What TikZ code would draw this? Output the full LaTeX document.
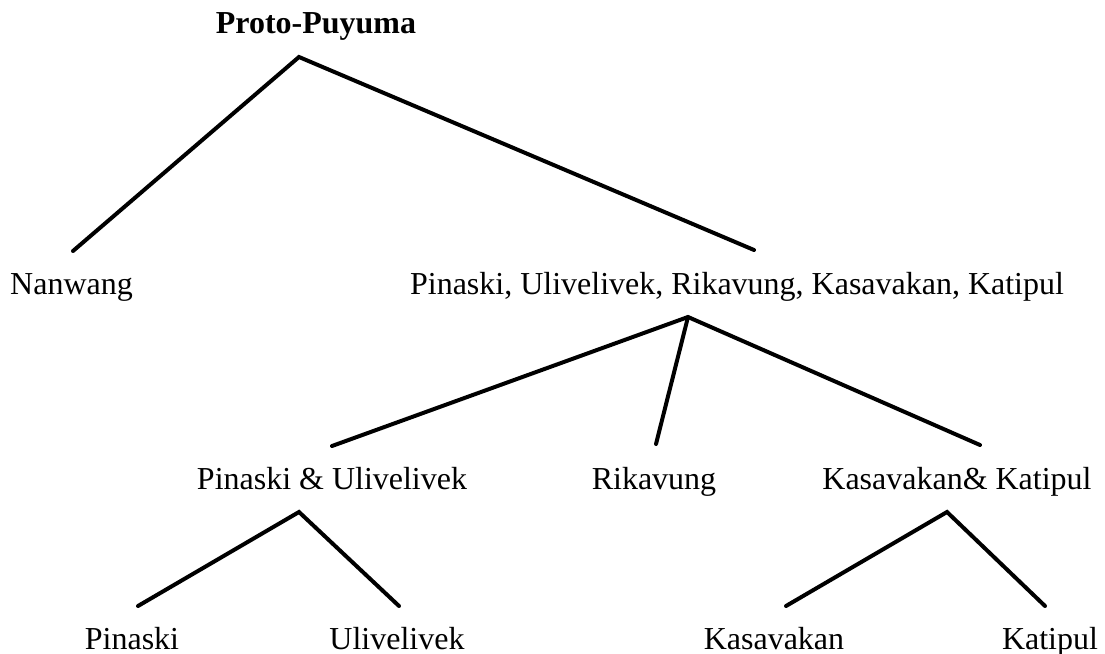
\documentclass[tikz,border=0pt]{standalone}
\usepackage{fontspec}
\setmainfont{Liberation Serif}
\begin{document}
\begin{tikzpicture}[x=0.03cm,y=-0.03cm,
  lbl/.style={inner sep=0pt,anchor=base,font=\fontsize{27.3}{30}\selectfont},
  branch/.style={line width=3.4pt,line cap=round}]
\useasboundingbox (0,0) rectangle (1105,654);
% labels
\node[lbl,font=\fontsize{27.3}{30}\selectfont\bfseries] (root) at (316,34) {Proto-Puyuma};
\node[lbl] (nan) at (71.5,294) {Nanwang};
\node[lbl] (grp) at (737,294) {Pinaski, Ulivelivek, Rikavung, Kasavakan, Katipul};
\node[lbl] (pu) at (332,489) {Pinaski \& Ulivelivek};
\node[lbl] (rik) at (654,489) {Rikavung};
\node[lbl] (kk) at (957,489) {Kasavakan\& Katipul};
\node[lbl] (pin) at (132,649) {Pinaski};
\node[lbl] (uli) at (397,649) {Ulivelivek};
\node[lbl] (kas) at (774,649) {Kasavakan};
\node[lbl] (kat) at (1050,649) {Katipul};
% branch points
\coordinate (rootB) at (299,57);
\coordinate (nanT) at (73,251);
\coordinate (grpT) at (754,250);
\coordinate (grpB) at (688,317);
\coordinate (puT) at (332,446);
\coordinate (rikT) at (656,444);
\coordinate (kkT) at (980,445);
\coordinate (puB) at (299,512);
\coordinate (pinT) at (138,606);
\coordinate (uliT) at (399,606);
\coordinate (kkB) at (947,512);
\coordinate (kasT) at (786,606);
\coordinate (katT) at (1045,606);
% tree edges
\draw[branch] (nanT) -- (rootB) -- (grpT);
\draw[branch] (puT) -- (grpB) -- (kkT);
\draw[branch] (grpB) -- (rikT);
\draw[branch] (pinT) -- (puB) -- (uliT);
\draw[branch] (kasT) -- (kkB) -- (katT);
\end{tikzpicture}
\end{document}
